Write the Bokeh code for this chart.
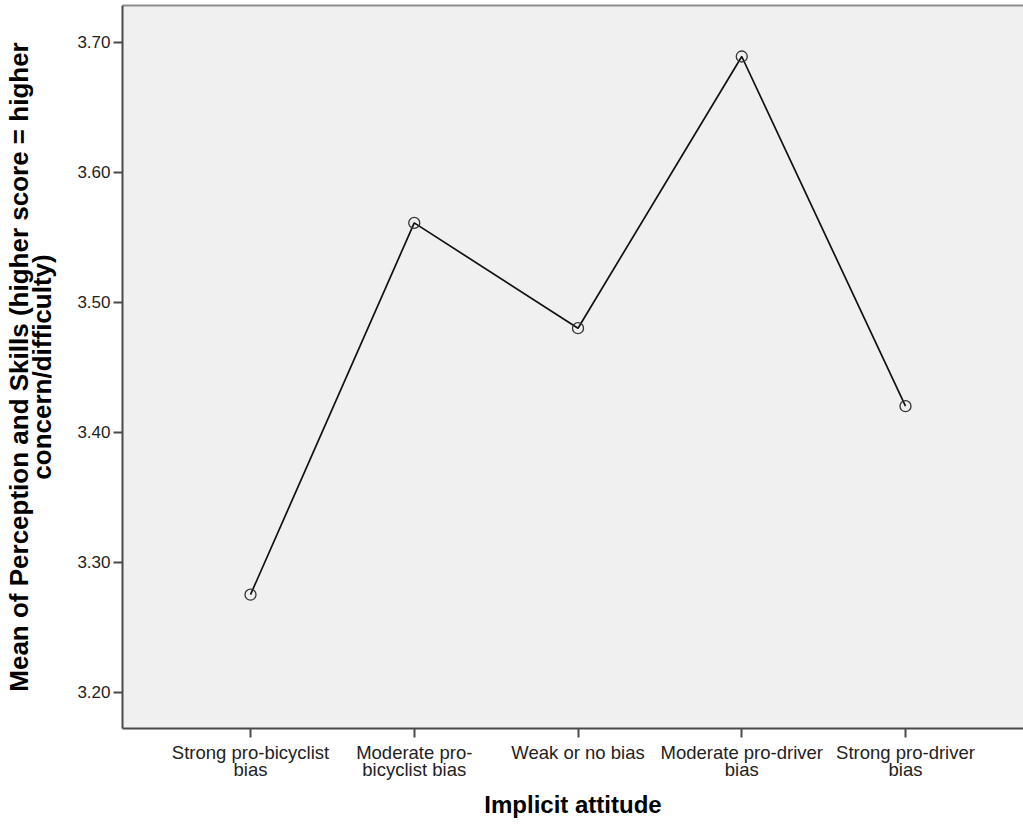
from bokeh.plotting import figure
from bokeh.models import (Range1d, FixedTicker, PrintfTickFormatter, LinearAxis,
                          ColumnDataSource)
from bokeh.embed import file_html
from bokeh.resources import INLINE

# ---- data ----
categories = ["Strong pro-bicyclist bias", "Moderate pro-bicyclist bias",
              "Weak or no bias", "Moderate pro-driver bias", "Strong pro-driver bias"]
tick_labels = ["Strong pro-bicyclist\nbias", "Moderate pro-\nbicyclist bias",
               "Weak or no bias", "Moderate pro-driver\nbias", "Strong pro-driver\nbias"]
mean_scores = [3.275, 3.561, 3.480, 3.689, 3.420]
y_ticks = [3.20, 3.30, 3.40, 3.50, 3.60, 3.70]

positions = list(range(1, len(categories) + 1))
src = ColumnDataSource(dict(x=positions, y=mean_scores, cat=categories))

p = figure(width=1023, height=824, output_backend="svg", toolbar_location=None,
           x_range=Range1d(0.2183, 5.7206), y_range=Range1d(3.17208, 3.72823),
           min_border_left=122, min_border_bottom=96, min_border_top=5,
           min_border_right=0)

p.background_fill_color = "#f0f0f0"
p.border_fill_color = "white"
p.outline_line_color = None
p.xgrid.visible = False
p.ygrid.visible = False

p.line("x", "y", source=src, line_color="#111111", line_width=1.7)
p.scatter("x", "y", source=src, size=11, marker="circle", fill_color=None,
          line_color="#333333", line_width=1.3)

# axes
ax_color = "#4a4a4a"
yax = p.yaxis[0]
yax.ticker = FixedTicker(ticks=y_ticks)
yax.formatter = PrintfTickFormatter(format="%.2f")
yax.axis_label = "Mean of Perception and Skills (higher score = higher\nconcern/difficulty)"
yax.axis_label_text_font = "Liberation Sans"
yax.axis_label_text_font_style = "bold"
yax.axis_label_text_font_size = "26px"
yax.axis_label_text_color = "black"
yax.axis_label_text_line_height = 0.78
yax.axis_label_standoff = 17
yax.major_label_text_font = "Liberation Sans"
yax.major_label_text_font_size = "17px"
yax.major_label_text_color = "#222222"
yax.major_label_standoff = 3
yax.axis_line_color = ax_color
yax.axis_line_width = 2
yax.major_tick_line_color = ax_color
yax.major_tick_line_width = 2
yax.major_tick_out = 9
yax.major_tick_in = 0
yax.minor_tick_line_color = None

xax = p.xaxis[0]
xax.ticker = FixedTicker(ticks=positions)
xax.major_label_overrides = {pos: lab for pos, lab in zip(positions, tick_labels)}
xax.axis_label = "Implicit attitude"
xax.axis_label_text_font = "Liberation Sans"
xax.axis_label_text_font_style = "bold"
xax.axis_label_text_font_size = "24px"
xax.axis_label_text_color = "black"
xax.axis_label_standoff = 8
xax.major_label_text_font = "Liberation Sans"
xax.major_label_text_font_size = "18.5px"
xax.major_label_text_color = "#222222"
xax.major_label_text_line_height = 0.81
xax.major_label_standoff = 4
xax.axis_line_color = ax_color
xax.axis_line_width = 2
xax.major_tick_line_color = ax_color
xax.major_tick_line_width = 2
xax.major_tick_out = 9
xax.major_tick_in = 0
xax.minor_tick_line_color = None

top = LinearAxis(ticker=FixedTicker(ticks=[]), axis_line_color="#8c8c8c",
                 axis_line_width=2, major_tick_line_color=None,
                 minor_tick_line_color=None)
p.add_layout(top, "above")

open("out.html", "w").write(file_html(p, INLINE))
